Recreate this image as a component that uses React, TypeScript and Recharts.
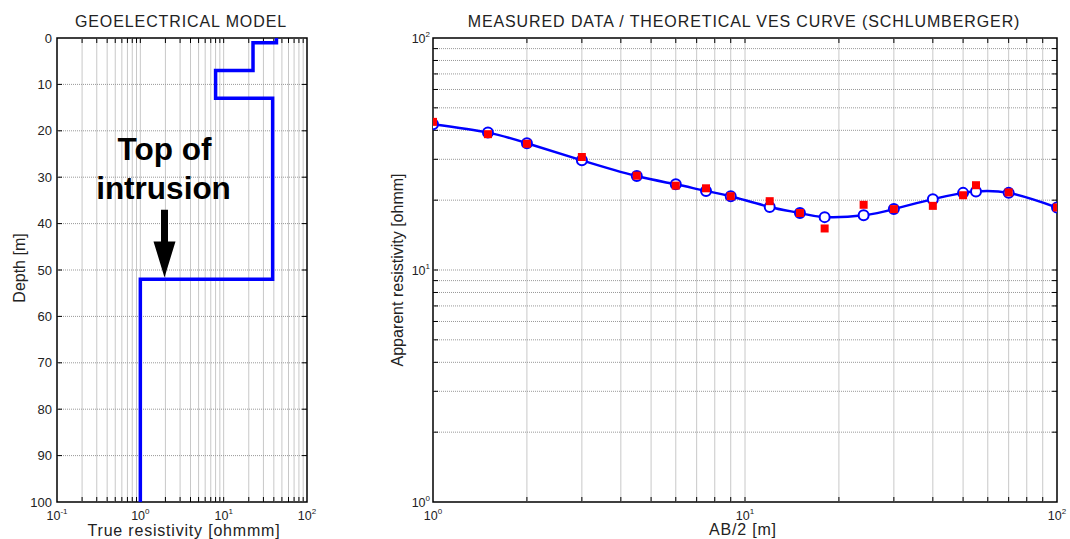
import React from 'react';
import { ComposedChart, Line, Scatter, XAxis, YAxis, ReferenceLine, ReferenceDot, ReferenceArea } from 'recharts';

// layered earth model, drawn as a step profile (resistivity vs depth)
const modelRho = [43, 43, 22.5, 22.5, 8, 8, 38.7, 38.7, 1, 1];
const modelDepth = [0, 1, 1, 7, 7, 13, 13, 52, 52, 100];

// Schlumberger sounding: half electrode spacing, fitted curve, field data
const ab2 = [1, 1.5, 2, 3, 4.5, 6, 7.5, 9, 12, 15, 18, 24, 30, 40, 50, 55, 70, 100];
const theoretical = [42.5, 39.1, 35.2, 29.7, 25.4, 23.4, 21.9, 20.8, 18.7, 17.6, 16.9, 17.2, 18.3, 20.2, 21.5, 21.8, 21.5, 18.6];
const measured = [43.5, 38.5, 35.0, 30.7, 25.5, 23.1, 22.5, 20.8, 19.8, 17.6, 15.1, 19.1, 18.3, 18.9, 21.0, 23.2, 21.6, 18.6];

// axis ticks / grid positions
const rhoTicks = [0.1, 0.2, 0.3, 0.4, 0.5, 0.6, 0.7, 0.8, 0.9, 1, 2, 3, 4, 5, 6, 7, 8, 9, 10, 20, 30, 40, 50, 60, 70, 80, 90, 100];
const depthTicks = [0, 10, 20, 30, 40, 50, 60, 70, 80, 90, 100];
const vesTicks = [1, 2, 3, 4, 5, 6, 7, 8, 9, 10, 20, 30, 40, 50, 60, 70, 80, 90, 100];

const FONT = '"Liberation Sans", Arial, sans-serif';
const BLUE = '#0000ff';
const RED = '#ff0000';

const modelData = modelRho.map((rho, i) => ({ rho, depth: modelDepth[i] }));
const vesData = ab2.map((x, i) => ({ x, theory: theoretical[i], measured: measured[i] }));

const isDecade = (v: number) => {
  const e = Math.round(Math.log10(v));
  return Math.abs(Math.pow(10, e) - v) < 1e-9 * Math.max(v, 1) ? e : null;
};

const XPowTick = (props: any) => {
  const { x, y, payload } = props;
  const e = isDecade(payload.value);
  if (e === null) return <g />;
  return (
    <text x={x} y={y + 13} textAnchor="middle" fontSize={12.5} fontFamily={FONT} fill="#222">
      10<tspan dy={-6} fontSize={8}>{e}</tspan>
    </text>
  );
};

const YPowTick = (props: any) => {
  const { x, y, payload } = props;
  const e = isDecade(payload.value);
  if (e === null) return <g />;
  return (
    <text x={x} y={y + 5} textAnchor="end" fontSize={12.5} fontFamily={FONT} fill="#222">
      10<tspan dy={-6} fontSize={8}>{e}</tspan>
    </text>
  );
};

const DepthTick = (props: any) => {
  const { x, y, payload } = props;
  return (
    <text x={x} y={y + 4.5} textAnchor="end" fontSize={13} fontFamily={FONT} fill="#222">
      {payload.value}
    </text>
  );
};

// grid line with short dark tick marks where it meets the frame
const GridLine = (props: any) => {
  const { x1, y1, x2, y2, stroke, strokeDasharray } = props;
  const len = Math.hypot(x2 - x1, y2 - y1) || 1;
  const ux = ((x2 - x1) / len) * 5;
  const uy = ((y2 - y1) / len) * 5;
  return (
    <g>
      <line x1={x1} y1={y1} x2={x2} y2={y2} stroke={stroke} strokeWidth={1} strokeDasharray={strokeDasharray} />
      <line x1={x1} y1={y1} x2={x1 + ux} y2={y1 + uy} stroke="#000" strokeWidth={1} />
      <line x1={x2} y1={y2} x2={x2 - ux} y2={y2 - uy} stroke="#000" strokeWidth={1} />
    </g>
  );
};

const Arrow = (props: any) => {
  const { x1, y1, x2, y2 } = props;
  const head = 36;
  const sw = 3.5;
  const hw = 11;
  const yh = y2 - head;
  const pts = [
    [x1 - sw, y1], [x1 + sw, y1], [x1 + sw, yh], [x1 + hw, yh],
    [x2, y2], [x1 - hw, yh], [x1 - sw, yh],
  ].map((p) => p.join(',')).join(' ');
  return <polygon points={pts} fill="#000" />;
};

const AnnotationText = (props: any) => {
  const { cx, cy } = props;
  return (
    <g fontFamily={FONT} fontWeight="bold" fontSize={31.5} fill="#000" textAnchor="middle">
      <text x={cx} y={cy}>Top of</text>
      <text x={cx - 1} y={cy + 39}>intrusion</text>
    </g>
  );
};

const gridV = '#c8c8c8';
const gridH = '#999999';

export default function App() {
  return (
    <div style={{ position: 'absolute', left: 0, top: 0, width: 1070, height: 539, background: '#fff', fontFamily: FONT }}>
      <div style={{ position: 'absolute', left: 0, top: 0 }}>
        <ComposedChart width={320} height={539} data={modelData} margin={{ top: 38, right: 13, bottom: 12, left: 12 }}>
          <XAxis xAxisId="b" dataKey="rho" type="number" scale="log" domain={[0.1, 100]} allowDataOverflow
            ticks={rhoTicks} interval={0} tick={<XPowTick />} tickSize={-5} tickMargin={10} height={25}
            axisLine={false} tickLine={false} />
          <YAxis yAxisId="l" type="number" domain={[0, 100]} reversed ticks={depthTicks} interval={0}
            tick={<DepthTick />} tickSize={-5} tickMargin={10} width={45} axisLine={false} tickLine={false} />
          {rhoTicks.slice(1, -1).map((v) => (
            <ReferenceLine key={'v' + v} xAxisId="b" yAxisId="l" x={v} stroke={gridV} shape={<GridLine />} />
          ))}
          {depthTicks.slice(1, -1).map((v) => (
            <ReferenceLine key={'h' + v} xAxisId="b" yAxisId="l" y={v} stroke={gridH} strokeDasharray="1 1"
              shape={<GridLine />} />
          ))}
          <ReferenceArea xAxisId="b" yAxisId="l" x1={0.1} x2={100} y1={0} y2={100} fill="none" fillOpacity={0}
            stroke="#000" strokeWidth={1.5} />
          <Line xAxisId="b" yAxisId="l" dataKey="depth" type="linear" stroke={BLUE} strokeWidth={3.5} dot={false}
            isAnimationActive={false} />
          <ReferenceLine xAxisId="b" yAxisId="l" segment={[{ x: 1.95, y: 37 }, { x: 1.95, y: 51.6 }]} shape={<Arrow />} />
          <ReferenceDot xAxisId="b" yAxisId="l" x={1.95} y={26.3} r={0} shape={<AnnotationText />} />
        </ComposedChart>
      </div>
      <div style={{ position: 'absolute', left: 320, top: 0 }}>
        <ComposedChart width={750} height={539} data={vesData} margin={{ top: 38, right: 13, bottom: 12, left: 73 }}>
          <XAxis xAxisId="b" dataKey="x" type="number" scale="log" domain={[1, 100]} allowDataOverflow
            ticks={vesTicks} interval={0} tick={<XPowTick />} tickSize={-5} tickMargin={10} height={25}
            axisLine={false} tickLine={false} />
          <YAxis yAxisId="l" type="number" scale="log" domain={[1, 100]} allowDataOverflow ticks={vesTicks} interval={0}
            tick={<YPowTick />} tickSize={-5} tickMargin={8} width={40} axisLine={false} tickLine={false} />
          {vesTicks.slice(1, -1).map((v) => (
            <ReferenceLine key={'v' + v} xAxisId="b" yAxisId="l" x={v} stroke={gridV} shape={<GridLine />} />
          ))}
          {vesTicks.slice(1, -1).map((v) => (
            <ReferenceLine key={'h' + v} xAxisId="b" yAxisId="l" y={v} stroke={gridH} strokeDasharray="1 1"
              shape={<GridLine />} />
          ))}
          <ReferenceArea xAxisId="b" yAxisId="l" x1={1} x2={100} y1={1} y2={100} fill="none" fillOpacity={0}
            stroke="#000" strokeWidth={1.5} />
          <Line xAxisId="b" yAxisId="l" dataKey="theory" type="natural" stroke={BLUE} strokeWidth={2.5}
            dot={{ r: 5, stroke: BLUE, strokeWidth: 2, fill: '#fff' }} isAnimationActive={false} />
          <Scatter xAxisId="b" yAxisId="l" dataKey="measured" shape="square" fill={RED} isAnimationActive={false} />
        </ComposedChart>
      </div>
      <svg width={1070} height={539} style={{ position: 'absolute', left: 0, top: 0, pointerEvents: 'none' }}
        fontFamily={FONT} fill="#222">
        <text x={181} y={27} textAnchor="middle" fontSize={16} letterSpacing={0.9}>GEOELECTRICAL MODEL</text>
        <text x={744} y={27} textAnchor="middle" fontSize={16} letterSpacing={0.9}>
          MEASURED DATA / THEORETICAL VES CURVE (SCHLUMBERGER)
        </text>
        <text x={184} y={536} textAnchor="middle" fontSize={16} letterSpacing={0.8}>True resistivity [ohmmm]</text>
        <text x={743} y={535} textAnchor="middle" fontSize={16} letterSpacing={0.8}>AB/2 [m]</text>
        <text transform="translate(25,268) rotate(-90)" textAnchor="middle" fontSize={16}>Depth [m]</text>
        <text transform="translate(403,270) rotate(-90)" textAnchor="middle" fontSize={16}>Apparent resistivity [ohmm]</text>
      </svg>
    </div>
  );
}
